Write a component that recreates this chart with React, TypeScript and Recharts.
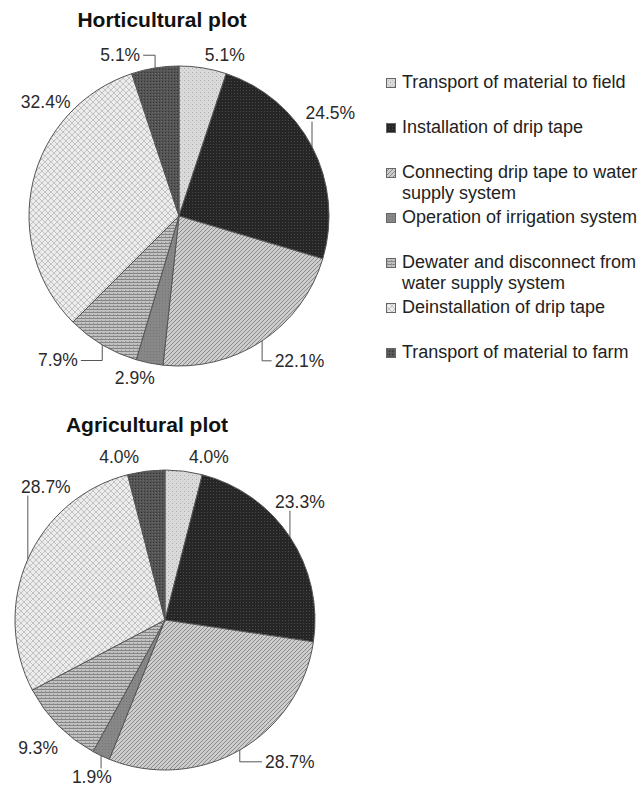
import React from "react";
import { Pie, PieChart } from "recharts";

const categories = [
  "Transport of material to field",
  "Installation of drip tape",
  "Connecting drip tape to water supply system",
  "Operation of irrigation system",
  "Dewater and disconnect from water supply system",
  "Deinstallation of drip tape",
  "Transport of material to farm",
];

const horticulturalShares = [5.1, 24.5, 22.1, 2.9, 7.9, 32.4, 5.1];
const agriculturalShares = [4.0, 23.3, 28.7, 1.9, 9.3, 28.7, 4.0];

// fill pattern per activity (see <PatternDefs />)
const patternIds = ["pField", "pInstall", "pConnect", "pOperate", "pDewater", "pDeinstall", "pFarm"];

// label nudges from the default radial spot, and which labels get a leader line
const horticulturalLabelShift = [[18, 11], [-3, -23], [24, 0], [-10, -9], [-32, -5], [36, -74], [-31, 11]];
const horticulturalLeaders = [false, true, true, false, true, false, true];
const agriculturalLabelShift = [[22, 10], [-10, -22], [38, -9], [1, 0], [-3, 6], [40, -63], [-24, 10]];
const agriculturalLeaders = [false, true, true, true, false, true, false];

const FONT = "'Liberation Sans', Arial, Helvetica, sans-serif";
const RAD = Math.PI / 180;
const LABEL_SIZE = 17.5;

const toRows = (shares: number[]) => categories.map((name, i) => ({ name, share: shares[i], fill: `url(#${patternIds[i]})` }));

function textWidth(s: string, size: number) {
  let w = 0;
  for (const ch of s) w += ch === "." ? 0.278 : ch === "%" ? 0.889 : 0.556;
  return w * size;
}

function makeLabel(shifts: number[][], leaders: boolean[]) {
  return (props: any) => {
    const { cx, cy, midAngle, outerRadius, value, index } = props;
    const text = `${Number(value).toFixed(1)}%`;
    const cos = Math.cos(-midAngle * RAD);
    const sin = Math.sin(-midAngle * RAD);
    const lx = cx + (outerRadius + 24) * cos + shifts[index][0];
    const ly = cy + (outerRadius + 24) * sin + shifts[index][1];
    const half = textWidth(text, LABEL_SIZE) / 2;
    let line = null;
    if (leaders[index]) {
      const sx = cx + outerRadius * cos;
      const sy = cy + outerRadius * sin;
      let pts: number[][];
      if (sx >= lx - half && sx <= lx + half) {
        pts = [[sx, sy], [sx, sy < ly ? ly - 9 : ly + 9]];
      } else {
        const ex = sx < lx ? lx - half - 3 : lx + half + 3;
        pts = [[sx, sy], [sx, ly], [ex, ly]];
      }
      line = <polyline points={pts.map((p) => p.join(",")).join(" ")} fill="none" stroke="#555" strokeWidth={1} />;
    }
    return (
      <g key={`lbl-${index}`}>
        {line}
        <text x={lx} y={ly} textAnchor="middle" dominantBaseline="central" fill="#2a2a2a" fontSize={LABEL_SIZE} fontFamily={FONT}>
          {text}
        </text>
      </g>
    );
  };
}

function PatternDefs() {
  return (
    <svg width={0} height={0} style={{ position: "absolute" }}>
      <defs>
        <pattern id="pField" width={4} height={4} patternUnits="userSpaceOnUse">
          <rect width={4} height={4} fill="#dadada" />
          <rect width={1} height={1} fill="#a9a9a9" />
          <rect x={2} y={2} width={1} height={1} fill="#c2c2c2" />
        </pattern>
        <pattern id="pInstall" width={3} height={3} patternUnits="userSpaceOnUse">
          <rect width={3} height={3} fill="#262626" />
          <rect width={1} height={1} fill="#4a4a4a" />
        </pattern>
        <pattern id="pConnect" width={4} height={4} patternUnits="userSpaceOnUse">
          <rect width={4} height={4} fill="#cdcdcd" />
          <path d="M-1,1 l2,-2 M0,4 l4,-4 M3,5 l2,-2" stroke="#8a8a8a" strokeWidth={1} />
        </pattern>
        <pattern id="pOperate" width={3} height={3} patternUnits="userSpaceOnUse">
          <rect width={3} height={3} fill="#878787" />
          <rect width={1} height={1} fill="#767676" />
        </pattern>
        <pattern id="pDewater" width={4} height={3} patternUnits="userSpaceOnUse">
          <rect width={4} height={3} fill="#c2c2c2" />
          <rect width={4} height={1} fill="#858585" />
          <rect x={1} y={2} width={1} height={1} fill="#9a9a9a" />
        </pattern>
        <pattern id="pDeinstall" width={6} height={6} patternUnits="userSpaceOnUse">
          <rect width={6} height={6} fill="#ececec" />
          <path d="M0,3 L3,0 L6,3 L3,6 Z" fill="none" stroke="#c2c2c2" strokeWidth={1} />
        </pattern>
        <pattern id="pFarm" width={3} height={3} patternUnits="userSpaceOnUse">
          <rect width={3} height={3} fill="#555555" />
          <rect width={1} height={1} fill="#333333" />
          <rect x={2} y={1} width={1} height={1} fill="#6a6a6a" />
        </pattern>
      </defs>
    </svg>
  );
}

function PlotPie({ shares, shifts, leaders, cx, cy, height }: { shares: number[]; shifts: number[][]; leaders: boolean[]; cx: number; cy: number; height: number }) {
  return (
    <PieChart width={370} height={height} margin={{ top: 0, right: 0, bottom: 0, left: 0 }}>
      <Pie
        data={toRows(shares)}
        dataKey="share"
        nameKey="name"
        cx={cx}
        cy={cy}
        outerRadius={150}
        startAngle={90}
        endAngle={-270}
        stroke="#555"
        strokeWidth={1}
        labelLine={false}
        label={makeLabel(shifts, leaders)}
        isAnimationActive={false}
      />
    </PieChart>
  );
}

const titleStyle: React.CSSProperties = {
  position: "absolute",
  width: 260,
  textAlign: "center",
  fontFamily: FONT,
  fontWeight: "bold",
  fontSize: 21,
  lineHeight: "24px",
  color: "#111",
};

function ActivityLegend() {
  return (
    <div style={{ position: "absolute", left: 386, top: 0 }}>
      {categories.map((name, i) => {
        const mid = 82 + 45 * i;
        return (
          <div key={name} style={{ position: "absolute", top: mid - 10.5, left: 0 }}>
            <svg width={10} height={10} style={{ position: "absolute", left: 0, top: 6 }}>
              <rect x={0.5} y={0.5} width={9} height={9} fill={`url(#${patternIds[i]})`} stroke="#666" strokeWidth={1} />
            </svg>
            <div style={{ position: "absolute", left: 16, top: 0, width: 244, fontFamily: FONT, fontSize: 18, lineHeight: "21px", color: "#222" }}>
              {name}
            </div>
          </div>
        );
      })}
    </div>
  );
}

export default function App() {
  return (
    <div style={{ position: "absolute", left: 0, top: 0, width: 643, height: 787, background: "#fff", overflow: "hidden" }}>
      <PatternDefs />
      <div style={{ ...titleStyle, left: 162 - 130, top: 8 }}>Horticultural plot</div>
      <div style={{ position: "absolute", left: 0, top: 0 }}>
        <PlotPie shares={horticulturalShares} shifts={horticulturalLabelShift} leaders={horticulturalLeaders} cx={179} cy={216} height={395} />
      </div>
      <ActivityLegend />
      <div style={{ ...titleStyle, left: 147 - 130, top: 413 }}>Agricultural plot</div>
      <div style={{ position: "absolute", left: 0, top: 395 }}>
        <PlotPie shares={agriculturalShares} shifts={agriculturalLabelShift} leaders={agriculturalLeaders} cx={165} cy={225} height={392} />
      </div>
    </div>
  );
}
